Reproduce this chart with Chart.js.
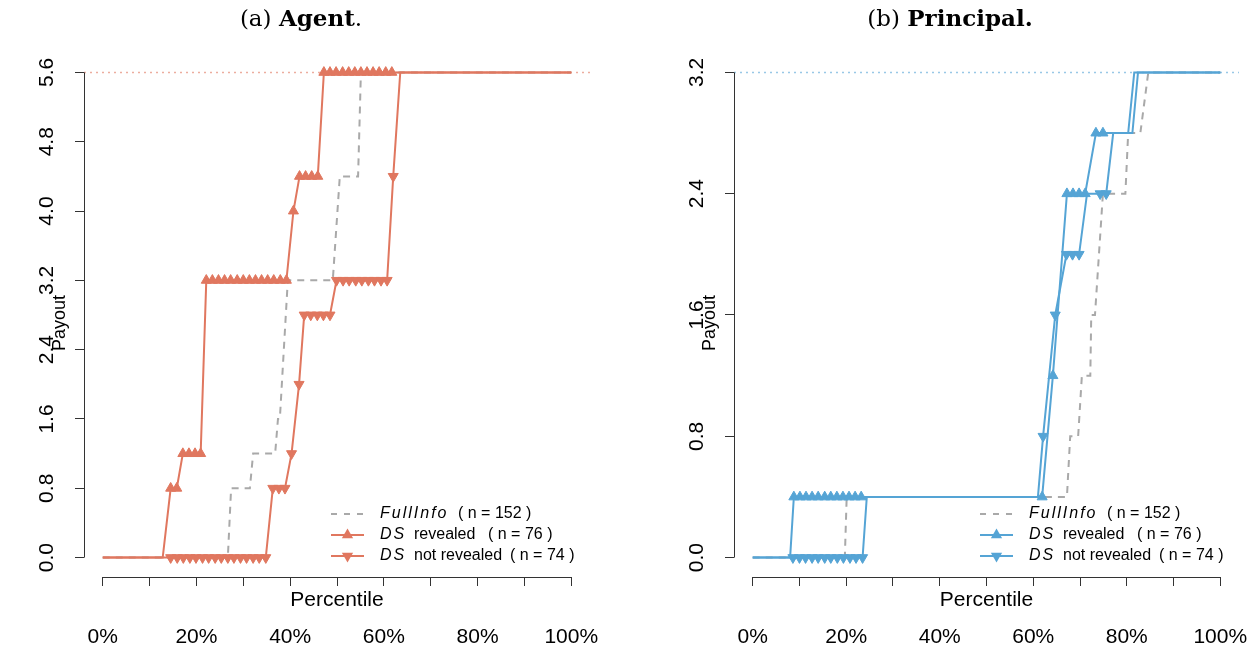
<!DOCTYPE html>
<html>
<head>
<meta charset="utf-8">
<script src="https://cdn.jsdelivr.net/npm/chart.js@4/dist/chart.umd.min.js"></script>
<style>
body{margin:0;background:#fff;}
#wrap{position:relative;width:1260px;height:653px;}
.panel{position:absolute;top:0;width:630px;height:653px;}
.ttl{position:absolute;top:4px;font-family:'DejaVu Serif',serif;font-size:23px;color:#000;transform:translateX(-50%);white-space:nowrap;}
</style>
</head>
<body>
<div id="wrap">
<div class="panel" style="left:0"><canvas id="agent" width="630" height="653"></canvas></div>
<div class="panel" style="left:630px"><canvas id="principal" width="630" height="653"></canvas></div>
<div class="ttl" style="left:301px">(a) <b>Agent</b>.</div>
<div class="ttl" style="left:950px">(b) <b>Principal.</b></div>
</div>
<script>
// tick labels
const xTickMarks = [0, 10, 20, 30, 40, 50, 60, 70, 80, 90, 100];
const percentTicks = [0, 20, 40, 60, 80, 100];
const agentTicks = [0, 0.8, 1.6, 2.4, 3.2, 4.0, 4.8, 5.6];
const principalTicks = [0, 0.8, 1.6, 2.4, 3.2];

// legend
const legendItalic = ["FullInfo", "DS", "DS"];
const legendWords = ["", "revealed", "not revealed"];
const legendCounts = ["( n = 152 )", "( n = 76 )", "( n = 74 )"];

// (a) Agent: percentile -> payout
const agentFullX = [0, 26.7, 27.4, 31.4, 32.1, 36.8, 37.4, 37.8, 39.5, 49.1, 50.6, 54.5, 55.1, 100];
const agentFullY = [0, 0, 0.8, 0.8, 1.2, 1.2, 1.6, 1.6, 3.2, 3.2, 4.4, 4.4, 5.6, 5.6];

const agentRevX = [0, 12.8, 14.5, 15.8, 17.1, 18.4, 19.7, 20.9,
  22.1, 23.4, 24.7, 26.0, 27.3, 28.7, 30.0, 31.3, 32.6, 33.9, 35.2, 36.5, 37.9, 39.2,
  40.7, 42.0, 43.3, 44.6, 45.9,
  47.2, 48.5, 49.8, 51.2, 52.5, 53.8, 55.1, 56.4, 57.7, 59.0, 60.4, 61.7, 100];
const agentRevY = [0, 0, 0.8, 0.8, 1.2, 1.2, 1.2, 1.2,
  3.2, 3.2, 3.2, 3.2, 3.2, 3.2, 3.2, 3.2, 3.2, 3.2, 3.2, 3.2, 3.2, 3.2,
  4.0, 4.4, 4.4, 4.4, 4.4,
  5.6, 5.6, 5.6, 5.6, 5.6, 5.6, 5.6, 5.6, 5.6, 5.6, 5.6, 5.6, 5.6];
const agentRevMark = [0, 0, 1, 1, 1, 1, 1, 1,
  1, 1, 1, 1, 1, 1, 1, 1, 1, 1, 1, 1, 1, 1,
  1, 1, 1, 1, 1,
  1, 1, 1, 1, 1, 1, 1, 1, 1, 1, 1, 1, 0];

const agentNotX = [0, 14.5, 15.9, 17.2, 18.6, 19.9, 21.3, 22.6, 24.0, 25.3, 26.7, 28.0, 29.4, 30.7, 32.1, 33.4, 34.8,
  36.3, 37.6, 38.9, 40.3, 41.9,
  43.0, 44.4, 45.8, 47.1, 48.5,
  49.9, 51.3, 52.6, 54.0, 55.3, 56.7, 58.0, 59.4, 60.7,
  62.0, 63.5, 100];
const agentNotY = [0, 0, 0, 0, 0, 0, 0, 0, 0, 0, 0, 0, 0, 0, 0, 0, 0,
  0.8, 0.8, 0.8, 1.2, 2.0,
  2.8, 2.8, 2.8, 2.8, 2.8,
  3.2, 3.2, 3.2, 3.2, 3.2, 3.2, 3.2, 3.2, 3.2,
  4.4, 5.6, 5.6];
const agentNotMark = [0, 1, 1, 1, 1, 1, 1, 1, 1, 1, 1, 1, 1, 1, 1, 1, 1,
  1, 1, 1, 1, 1,
  1, 1, 1, 1, 1,
  1, 1, 1, 1, 1, 1, 1, 1, 1,
  1, 0, 0];

// (b) Principal
const princFullX = [0, 19.7, 20.1, 67.2, 67.9, 69.6, 70.4, 72.2, 72.4, 73.2, 74.9, 79.7, 80.3, 82.9, 84.6, 100];
const princFullY = [0, 0, 0.4, 0.4, 0.8, 0.8, 1.2, 1.2, 1.6, 1.6, 2.4, 2.4, 2.8, 2.8, 3.2, 3.2];

const princRevX = [0, 8.0, 8.8, 10.1, 11.4, 12.7, 14.0, 15.4, 16.7, 18.0, 19.3, 20.6, 21.9, 23.2,
  61.9, 64.2, 67.2, 68.5, 69.8, 71.1, 73.4, 74.9, 80.3, 81.6, 100];
const princRevY = [0, 0, 0.4, 0.4, 0.4, 0.4, 0.4, 0.4, 0.4, 0.4, 0.4, 0.4, 0.4, 0.4,
  0.4, 1.2, 2.4, 2.4, 2.4, 2.4, 2.8, 2.8, 2.8, 3.2, 3.2];
const princRevMark = [0, 0, 1, 1, 1, 1, 1, 1, 1, 1, 1, 1, 1, 1,
  1, 1, 1, 1, 1, 1, 1, 1, 0, 0, 0];

const princNotX = [0, 8.6, 10.0, 11.3, 12.7, 14.0, 15.4, 16.7, 18.1, 19.4, 20.8, 22.1, 23.5,
  24.4, 61.0, 62.1, 64.7, 67.1, 68.4, 69.8, 71.5, 74.3, 75.6, 77.1, 81.2, 82.4, 100];
const princNotY = [0, 0, 0, 0, 0, 0, 0, 0, 0, 0, 0, 0, 0,
  0.4, 0.4, 0.8, 1.6, 2.0, 2.0, 2.0, 2.4, 2.4, 2.4, 2.8, 2.8, 3.2, 3.2];
const princNotMark = [0, 1, 1, 1, 1, 1, 1, 1, 1, 1, 1, 1, 1,
  0, 0, 1, 1, 1, 1, 1, 0, 1, 1, 0, 0, 0, 0];

Chart.defaults.font.family = "'Liberation Sans', Arial, sans-serif";
Chart.defaults.color = "#000";

const GRAY = "#a9a9a9";
const AXIS = "#333";

function pts(xs, ys) {
    return xs.map((x, i) => ({ x: x, y: ys[i] }));
}

function triangle(ctx, x, y, r, down) {
    const s = down ? -1 : 1;
    ctx.beginPath();
    ctx.moveTo(x, y - s * r);
    ctx.lineTo(x + r * 0.866, y + s * r * 0.5);
    ctx.lineTo(x - r * 0.866, y + s * r * 0.5);
    ctx.closePath();
    ctx.fill();
}

function decor(o) {
    return {
        id: "decor",
        afterDraw(chart) {
            const ctx = chart.ctx;
            const area = chart.chartArea;
            const xs = chart.scales.x;
            const ys = chart.scales.y;
            const top = o.yTicks[o.yTicks.length - 1];
            ctx.save();

            // axis lines only over the tick range
            ctx.strokeStyle = AXIS;
            ctx.lineWidth = 1;
            ctx.beginPath();
            const ax = Math.round(area.left) + 0.5;
            ctx.moveTo(ax, ys.getPixelForValue(0));
            ctx.lineTo(ax, ys.getPixelForValue(top));
            const ay = Math.round(area.bottom) + 0.5;
            ctx.moveTo(xs.getPixelForValue(0), ay);
            ctx.lineTo(xs.getPixelForValue(100), ay);
            ctx.stroke();

            // axis titles
            ctx.fillStyle = "#000";
            ctx.font = "21px 'Liberation Sans', Arial, sans-serif";
            ctx.textAlign = "center";
            ctx.textBaseline = "middle";
            ctx.fillText("Percentile", (xs.getPixelForValue(0) + xs.getPixelForValue(100)) / 2, area.bottom + 23);
            ctx.save();
            ctx.font = "18px 'Liberation Sans', Arial, sans-serif";
            ctx.translate(area.left - 24, 323);
            ctx.rotate(-Math.PI / 2);
            ctx.fillText("Payout", 0, 0);
            ctx.restore();

            // legend
            const sx = area.right - 259;
            const tx = sx + 49;
            const countOff = [78, 108, 130];
            for (let i = 0; i < 3; i++) {
                const y = area.bottom - 63 + i * 21;
                ctx.lineWidth = 2;
                if (i === 0) {
                    ctx.strokeStyle = GRAY;
                    ctx.setLineDash([6, 7]);
                } else {
                    ctx.strokeStyle = o.color;
                    ctx.setLineDash([]);
                }
                ctx.beginPath();
                ctx.moveTo(sx, y);
                ctx.lineTo(sx + 33, y);
                ctx.stroke();
                ctx.setLineDash([]);
                if (i > 0) {
                    ctx.fillStyle = o.color;
                    triangle(ctx, sx + 16.5, y, 6.5, i === 2);
                }
                ctx.fillStyle = "#000";
                ctx.textAlign = "left";
                ctx.font = "italic 16px 'Liberation Sans', Arial, sans-serif";
                ctx.letterSpacing = "2px";
                ctx.fillText(legendItalic[i], tx, y);
                ctx.font = "16px 'Liberation Sans', Arial, sans-serif";
                ctx.letterSpacing = "0px";
                if (legendWords[i]) ctx.fillText(legendWords[i], tx + 34, y);
                ctx.fillText(legendCounts[i], tx + countOff[i], y);
            }
            ctx.restore();
        }
    };
}

function buildChart(id, o) {
    const stepLine = (xs, ys, marks, down) => ({
        data: pts(xs, ys),
        showLine: true,
        borderColor: o.color,
        backgroundColor: o.color,
        borderWidth: 2,
        pointStyle: "triangle",
        pointRotation: down ? 180 : 0,
        pointRadius: (c) => marks[c.dataIndex] ? 5.8 : 0,
        pointBackgroundColor: o.color,
        pointBorderColor: o.color,
        pointBorderWidth: 1
    });

    new Chart(document.getElementById(id), {
        type: "scatter",
        data: {
            datasets: [
                stepLine(o.revX, o.revY, o.revMark, false),
                stepLine(o.notX, o.notY, o.notMark, true),
                {
                    data: pts(o.fullX, o.fullY),
                    showLine: true,
                    borderColor: GRAY,
                    borderWidth: 2,
                    borderDash: [7, 6],
                    pointRadius: 0
                },
                {
                    data: pts([-4, 104], [o.yTicks[o.yTicks.length - 1], o.yTicks[o.yTicks.length - 1]]),
                    showLine: true,
                    borderColor: o.light,
                    borderWidth: 1.5,
                    borderDash: [2, 4],
                    pointRadius: 0
                }
            ]
        },
        options: {
            responsive: false,
            animation: false,
            devicePixelRatio: 1,
            layout: { padding: { left: 0, right: o.padRight, top: 53, bottom: 0 } },
            plugins: { legend: { display: false }, tooltip: { enabled: false } },
            scales: {
                x: {
                    type: "linear",
                    min: -4,
                    max: 104,
                    afterFit: (s) => { s.height = 76; s.paddingLeft = 0; s.paddingRight = 0; },
                    afterBuildTicks: (s) => { s.ticks = xTickMarks.map(v => ({ value: v })); },
                    grid: { drawOnChartArea: false, drawTicks: true, tickLength: 9, color: AXIS },
                    border: { display: false },
                    ticks: {
                        padding: 39,
                        autoSkip: false,
                        maxRotation: 0,
                        font: { size: 21 },
                        callback: (v) => percentTicks.includes(v) ? v + "%" : ""
                    }
                },
                y: {
                    type: "linear",
                    min: o.yMin,
                    max: o.yMax,
                    afterFit: (s) => { s.width = o.axisLeft; s.paddingTop = 0; s.paddingBottom = 0; },
                    afterBuildTicks: (s) => { s.ticks = o.yTicks.map(v => ({ value: v })); },
                    grid: { drawOnChartArea: false, drawTicks: true, tickLength: 9, color: AXIS },
                    border: { display: false },
                    ticks: {
                        minRotation: 90,
                        maxRotation: 90,
                        crossAlign: "center",
                        padding: 13,
                        font: { size: 21 },
                        callback: (v) => Number(v).toFixed(1)
                    }
                }
            }
        },
        plugins: [decor(o)]
    });
}

buildChart("agent", {
    color: "#e0775f", light: "rgba(224,119,95,0.6)",
    yTicks: agentTicks, yMin: -0.224, yMax: 5.824,
    axisLeft: 84, padRight: 40,
    fullX: agentFullX, fullY: agentFullY,
    revX: agentRevX, revY: agentRevY, revMark: agentRevMark,
    notX: agentNotX, notY: agentNotY, notMark: agentNotMark
});

buildChart("principal", {
    color: "#55a4d5", light: "rgba(85,164,213,0.6)",
    yTicks: principalTicks, yMin: -0.128, yMax: 3.328,
    axisLeft: 104, padRight: 21,
    fullX: princFullX, fullY: princFullY,
    revX: princRevX, revY: princRevY, revMark: princRevMark,
    notX: princNotX, notY: princNotY, notMark: princNotMark
});
</script>
</body>
</html>
